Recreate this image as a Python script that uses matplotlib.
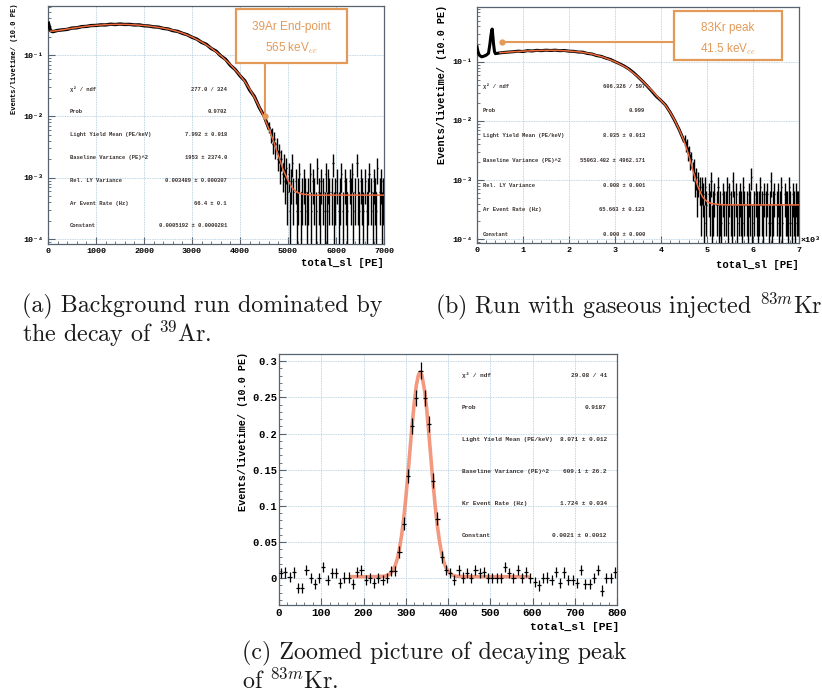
import numpy as np
import matplotlib
matplotlib.use('Agg')
import matplotlib.pyplot as plt
from matplotlib.patches import Rectangle
from matplotlib.ticker import MultipleLocator, LogLocator, FuncFormatter, NullFormatter

# ---------------- data ----------------
# (a) background run, 39Ar
a_body_x = [10, 50, 100, 200, 300, 400, 500, 600, 700, 800, 900, 1000, 1100, 1200, 1300, 1400,
            1500, 1600, 1700, 1800, 1900, 2000, 2100, 2200, 2300, 2400, 2500, 2600, 2700, 2800,
            2900, 3000, 3100, 3200, 3300, 3400, 3500, 3600, 3700, 3800, 3900, 4000, 4100, 4200,
            4300, 4400, 4500, 4600]
a_body_y = [0.33, 0.25, 0.24, 0.252, 0.257, 0.262, 0.275, 0.278, 0.29, 0.293, 0.302, 0.304, 0.31,
            0.309, 0.318, 0.314, 0.32, 0.315, 0.316, 0.309, 0.31, 0.30, 0.297, 0.288, 0.285, 0.272,
            0.266, 0.25, 0.243, 0.226, 0.214, 0.195, 0.182, 0.161, 0.149, 0.128, 0.116, 0.097,
            0.085, 0.068, 0.058, 0.046, 0.038, 0.027, 0.021, 0.014, 0.0102, 0.0064]
a_tail_start, a_bin = 4600, 25
a_unit = 2.9e-4  # events/livetime for a single count
a_tail_counts = [23, 17, 18, 12, 15, 10, 12, 7, 9, 5, 7, 4, 6, 3, 5, 2,
                 4, 1, 3, 6, 2, 0, 3, 1, 2, 4, 1, 2, 0, 3, 2, 1,
                 2, 0, 4, 1, 3, 2, 0, 1, 5, 2, 1, 3, 0, 2, 1, 4,
                 1, 3, 2, 0, 2, 6, 1, 2, 3, 0, 1, 2, 4, 1, 0, 3,
                 2, 1, 0, 3, 2, 4, 1, 2, 0, 6, 2, 1, 3, 2, 1, 0,
                 3, 1, 2, 4, 0, 2, 1, 3, 2, 1, 5, 0, 2, 3, 1, 2]
a_fit_x = [50, 100, 200, 400, 600, 800, 1000, 1200, 1400, 1600, 1800, 2000, 2200, 2400, 2600,
           2800, 3000, 3200, 3400, 3600, 3800, 4000, 4100, 4200, 4300, 4400, 4500, 4600, 4700,
           4800, 4900, 5000, 5100, 5200, 5300, 5500, 6000, 7000]
a_fit_y = [0.245, 0.245, 0.25, 0.265, 0.28, 0.295, 0.305, 0.312, 0.316, 0.316, 0.311, 0.303,
           0.29, 0.275, 0.254, 0.228, 0.197, 0.163, 0.13, 0.098, 0.07, 0.047, 0.037, 0.028,
           0.0205, 0.0143, 0.0098, 0.0063, 0.0039, 0.0023, 0.00135, 0.0009, 0.00066, 0.00057,
           0.00054, 0.00052, 0.00052, 0.00052]
a_mark = (4520, 0.01)
a_stats = [("χ² / ndf", "277.0 / 324"), ("Prob", "0.9702"),
           ("Light Yield Mean (PE/keV)", "7.992 ± 0.018"),
           ("Baseline Variance (PE)^2", "1953 ± 2374.0"),
           ("Rel. LY Variance", "0.003489 ± 0.000307"),
           ("Ar Event Rate (Hz)", "66.4 ± 0.1"),
           ("Constant", "0.0005192 ± 0.0000281")]

# (b) run with injected 83mKr
b_body_x = [0, 20, 50, 100, 150, 200, 250, 280, 300, 320, 330, 340, 360, 380, 400, 450, 500,
            600, 700, 800, 900, 1000, 1100, 1200, 1300, 1400, 1500, 1600, 1700, 1800, 1900,
            2000, 2100, 2200, 2300, 2400, 2500, 2600, 2700, 2800, 2900, 3000, 3100, 3200, 3300,
            3400, 3500, 3600, 3700, 3800, 3900, 4000, 4100, 4200, 4300, 4400, 4500]
b_body_y = [0.18, 0.15, 0.13, 0.122, 0.125, 0.13, 0.14, 0.2, 0.27, 0.34, 0.36, 0.3, 0.2, 0.15,
            0.138, 0.14, 0.142, 0.145, 0.147, 0.149, 0.152, 0.15, 0.155, 0.153, 0.157, 0.155,
            0.158, 0.156, 0.158, 0.155, 0.156, 0.152, 0.151, 0.147, 0.146, 0.139, 0.136, 0.128,
            0.124, 0.116, 0.11, 0.101, 0.093, 0.085, 0.076, 0.066, 0.056, 0.047, 0.039, 0.032,
            0.026, 0.0222, 0.0185, 0.014, 0.0101, 0.007, 0.0046]
b_tail_start, b_bin = 4500, 25
b_unit = 1.9e-4
b_tail_counts = [25, 20, 21, 15, 16, 11, 12, 8, 9, 5, 6, 3, 5, 4, 2, 4,
                 3, 1, 4, 2, 0, 3, 2, 5, 1, 2, 3, 0, 2, 4, 1, 2,
                 1, 3, 2, 0, 2, 4, 1, 3, 2, 1, 5, 2, 0, 3, 1, 2,
                 3, 2, 1, 4, 2, 0, 2, 1, 3, 2, 6, 1, 2, 0, 3, 2,
                 1, 2, 4, 2, 1, 3, 0, 2, 3, 1, 2, 5, 1, 2, 3, 0,
                 2, 3, 1, 2, 4, 1, 0, 3, 2, 2, 1, 4, 2, 1, 3, 2,
                 1, 3, 2, 2]
b_fit_x = [500, 750, 1000, 1250, 1500, 1750, 2000, 2250, 2500, 2750, 3000, 3250, 3500, 3750,
           4000, 4100, 4200, 4300, 4400, 4500, 4600, 4700, 4800, 4900, 5000, 5100, 5200, 5400, 7000]
b_fit_y = [0.143, 0.148, 0.152, 0.155, 0.157, 0.157, 0.153, 0.147, 0.136, 0.12, 0.101, 0.08,
           0.056, 0.036, 0.0222, 0.0183, 0.014, 0.0102, 0.007, 0.0046, 0.0027, 0.0014, 0.00078,
           0.00052, 0.00043, 0.0004, 0.00039, 0.00038, 0.00038]
b_mark = (540, 0.217)
b_stats = [("χ² / ndf", "606.326 / 597"), ("Prob", "0.999"),
           ("Light Yield Mean (PE/keV)", "8.035 ± 0.013"),
           ("Baseline Variance (PE)^2", "55063.482 ± 4962.171"),
           ("Rel. LY Variance", "0.008 ± 0.001"),
           ("Ar Event Rate (Hz)", "65.663 ± 0.123"),
           ("Constant", "0.000 ± 0.000")]

# (c) zoom on the 83mKr peak, 10 PE bins
c_x = list(range(5, 800, 10))
c_y = [0.007, 0.008, 0.0015, 0.008, -0.014, -0.014, 0.011, 0.0, -0.008, 0.0,
       0.016, -0.003, 0.007, 0.007, -0.007, 0.001, 0.001, -0.008, 0.009, 0.011,
       -0.003, 0.0, -0.006, 0.0, -0.002, 0.0, 0.010, 0.010, 0.036, 0.075,
       0.141, 0.21, 0.249, 0.287, 0.249, 0.213, 0.135, 0.082, 0.029, 0.011,
       0.007, -0.002, 0.011, 0.001, 0.007, 0.0, 0.011, 0.007, 0.009, 0.0,
       0.0, 0.0, 0.0, 0.016, 0.007, 0.0, 0.011, 0.0, 0.009, 0.0,
       -0.005, -0.010, 0.0, 0.001, -0.002, 0.009, -0.006, 0.008, -0.002, -0.002,
       -0.006, 0.011, -0.008, -0.008, 0.0, 0.011, -0.017, 0.0, 0.0, 0.008]
c_err_base = 0.007
c_err_peak = {285: 0.008, 295: 0.009, 305: 0.010, 315: 0.011, 325: 0.011, 335: 0.012,
              345: 0.011, 355: 0.011, 365: 0.010, 375: 0.009, 385: 0.008}
c_fit_x = [170, 200, 230, 250, 260, 265, 270, 275, 280, 285, 290, 295, 300, 305, 310, 315, 320,
           325, 330, 334, 338, 345, 350, 355, 360, 365, 370, 375, 380, 385, 390, 395, 400, 410,
           420, 440, 470, 520, 590]
c_fit_y = [0.0021, 0.0021, 0.0022, 0.0028, 0.0049, 0.0073, 0.0113, 0.0176, 0.0269, 0.0403,
           0.0584, 0.0817, 0.110, 0.1424, 0.177, 0.2115, 0.242, 0.2666, 0.281, 0.285, 0.281,
           0.258, 0.231, 0.198, 0.163, 0.129, 0.098, 0.0718, 0.0505, 0.0344, 0.0227, 0.0147,
           0.0095, 0.0043, 0.0027, 0.0021, 0.0021, 0.0021, 0.0021]
c_stats = [("χ² / ndf", "29.08 / 41"), ("Prob", "0.9187"),
           ("Light Yield Mean (PE/keV)", "8.071 ± 0.012"),
           ("Baseline Variance (PE)^2", "609.1 ± 26.2"),
           ("Kr Event Rate (Hz)", "1.724 ± 0.034"),
           ("Constant", "0.0021 ± 0.0012")]

# ---------------- style ----------------
MONO = ['Liberation Mono', 'DejaVu Sans Mono']
plt.rcParams['font.family'] = MONO
plt.rcParams['font.weight'] = 'bold'
plt.rcParams['mathtext.fontset'] = 'cm'

FRAME = '#56636f'
GRID = '#a9c8de'
FIT = '#ee6a3c'
ORANGE = '#e39a58'
STAT = '#3b3330'
YLAB = 'Events/livetime/ (10.0 PE)'
XLAB = 'total_sl [PE]'

W, H = 822, 695
fig = plt.figure(figsize=(W / 100, H / 100), dpi=100)


def axes_px(l, t, r, b):
    return fig.add_axes([l / W, 1 - b / H, (r - l) / W, (b - t) / H])


def fx(px):
    return px / W


def fy(py):
    return 1 - py / H


SUP = str.maketrans('-0123456789', '⁻⁰¹²³⁴⁵⁶⁷⁸⁹')


def log_label(v, pos):
    return '10' + str(int(round(np.log10(v)))).translate(SUP)


def root_style(ax, size, pad=3):
    for s in ax.spines.values():
        s.set_color(FRAME)
        s.set_linewidth(0.9)
    ax.tick_params(which='both', direction='in', top=False, right=False,
                   color=FRAME, labelsize=size, pad=pad)
    ax.tick_params(which='major', length=5, width=0.8)
    ax.tick_params(which='minor', length=2.5, width=0.6)
    ax.grid(True, which='major', color=GRID, lw=0.6, ls=(0, (1, 1)))
    ax.set_axisbelow(True)


def stats(ax, rows, x0, x1, y0, dy, size):
    for i, (k, v) in enumerate(rows):
        ax.text(x0, y0 - i * dy, k, transform=ax.transAxes, fontsize=size,
                color=STAT, ha='left', va='center', zorder=6)
        ax.text(x1, y0 - i * dy, v, transform=ax.transAxes, fontsize=size,
                color=STAT, ha='right', va='center', zorder=6)


def tail(ax, start, width, counts, unit):
    k = np.array(counts, dtype=float)
    xs = start + width / 2 + width * np.arange(len(k))
    m = k > 0
    y = k[m] * unit
    err = np.sqrt(k[m]) * unit
    lo = np.minimum(err, y - 1e-7)
    ax.errorbar(xs[m], y, yerr=[lo, err], xerr=width / 2, fmt='none',
                ecolor='black', elinewidth=1.0, capsize=0, zorder=3)


def callout(ax, box, lines, center_x, rows_y, start, mark):
    l, b, r, t = box
    ax.add_patch(Rectangle((l, b), r - l, t - b, transform=ax.transAxes, facecolor='white',
                           edgecolor=ORANGE, lw=1.6, zorder=7, clip_on=False))
    for txt, yy in zip(lines, rows_y):
        ax.text(center_x, yy, txt, transform=ax.transAxes, ha='center', va='center',
                fontsize=8.5, family='Liberation Sans', weight='normal', color=ORANGE, zorder=8)
    ax.annotate('', xy=mark, xycoords='data', xytext=start, textcoords='axes fraction',
                arrowprops=dict(arrowstyle='-', color=ORANGE, lw=1.5, shrinkA=0, shrinkB=0),
                zorder=7)
    ax.plot(*mark, 'o', color=ORANGE, ms=3.5, zorder=8)


# ---------------- (a) ----------------
ax = axes_px(48, 6, 384, 244)
ax.set_yscale('log')
ax.set_xlim(0, 7000)
ax.set_ylim(8.3e-5, 0.63)
ax.plot(a_body_x, a_body_y, color='black', lw=2.4, zorder=3)
tail(ax, a_tail_start, a_bin, a_tail_counts, a_unit)
ax.plot(a_fit_x, a_fit_y, color=FIT, lw=1.1, zorder=4)
ax.xaxis.set_major_locator(MultipleLocator(1000))
ax.xaxis.set_minor_locator(MultipleLocator(200))
ax.yaxis.set_major_locator(LogLocator(base=10, numticks=10))
ax.yaxis.set_minor_locator(LogLocator(base=10, subs=np.arange(2, 10), numticks=10))
ax.yaxis.set_major_formatter(FuncFormatter(log_label))
ax.yaxis.set_minor_formatter(NullFormatter())
root_style(ax, 6)
stats(ax, a_stats, 0.0655, 0.5327, 0.651, 0.0958, 4.0)
callout(ax, (0.5595, 0.7605, 0.8899, 0.987), ['39Ar End-point', '565 keV$_{ee}$'],
        0.7247, (0.912, 0.8235), (0.6458, 0.7605), a_mark)
fig.text(fx(384), fy(263), XLAB, ha='right', va='center', fontsize=7.7)
fig.text(fx(14), fy(4), YLAB, rotation=90, ha='center', va='top', fontsize=5.0)

# ---------------- (b) ----------------
ax = axes_px(477, 7, 799, 243)
ax.set_yscale('log')
ax.set_xlim(0, 7000)
ax.set_ylim(8.6e-5, 0.85)
ax.plot(b_body_x, b_body_y, color='black', lw=2.2, zorder=3)
tail(ax, b_tail_start, b_bin, b_tail_counts, b_unit)
ax.plot(b_fit_x, b_fit_y, color=FIT, lw=1.1, zorder=4)
ax.xaxis.set_major_locator(MultipleLocator(1000))
ax.xaxis.set_minor_locator(MultipleLocator(200))
ax.xaxis.set_major_formatter(FuncFormatter(lambda v, p: f'{v / 1000:g}'))
ax.yaxis.set_major_locator(LogLocator(base=10, numticks=10))
ax.yaxis.set_minor_locator(LogLocator(base=10, subs=np.arange(2, 10), numticks=10))
ax.yaxis.set_major_formatter(FuncFormatter(log_label))
ax.yaxis.set_minor_formatter(NullFormatter())
root_style(ax, 6)
stats(ax, b_stats, 0.0186, 0.5217, 0.665, 0.105, 4.0)
callout(ax, (0.6118, 0.7754, 0.9472, 0.983), ['83Kr peak', '41.5 keV$_{ee}$'],
        0.7795, (0.911, 0.818), (0.6118, 0.8517), b_mark)
ax.text(1.004, 0.012, '×10³', transform=ax.transAxes, ha='left', va='center', fontsize=6)
fig.text(fx(799), fy(265), XLAB, ha='right', va='center', fontsize=7.7)
fig.text(fx(442), fy(5), YLAB, rotation=90, ha='center', va='top', fontsize=7.4)

# ---------------- (c) ----------------
ax = axes_px(279, 354, 617, 605)
ax.set_xlim(0, 800)
ax.set_ylim(-0.037, 0.31)
c_err = [c_err_peak.get(x, c_err_base) for x in c_x]
ax.plot(c_fit_x, c_fit_y, color='#f2876a', lw=2.6, alpha=0.85, zorder=3,
        solid_capstyle='round')
ax.errorbar(c_x, c_y, yerr=c_err, xerr=5, fmt='none', ecolor='black',
            elinewidth=0.9, capsize=0, zorder=4)
ax.xaxis.set_major_locator(MultipleLocator(100))
ax.xaxis.set_minor_locator(MultipleLocator(20))
ax.yaxis.set_major_locator(MultipleLocator(0.05))
ax.yaxis.set_minor_locator(MultipleLocator(0.01))
ax.yaxis.set_major_formatter(FuncFormatter(lambda v, p: f'{v:g}' if abs(v) > 1e-9 else '0'))
root_style(ax, 7.5)
ax.tick_params(axis='x', labelsize=7.8, pad=2)
ax.tick_params(axis='y', pad=1.5)
stats(ax, c_stats, 0.541, 0.970, 0.916, 0.1275, 4.4)
fig.text(fx(619), fy(627), XLAB, ha='right', va='center', fontsize=8.2)
fig.text(fx(243), fy(352), YLAB, rotation=90, ha='center', va='top', fontsize=7.4)

# ---------------- captions ----------------
CAP = dict(family='cmr10', weight='normal', fontsize=17.3, color='#1a1a1a', va='center', ha='left')
fig.text(fx(22), fy(306), '(a) Background run dominated by', **CAP)
fig.text(fx(22), fy(334), 'the decay of $^{39}$Ar.', **CAP)
fig.text(fx(435), fy(306), '(b) Run with gaseous injected $^{83m}$Kr', **CAP)
fig.text(fx(242), fy(653), '(c) Zoomed picture of decaying peak', **CAP)
fig.text(fx(242), fy(681), 'of $^{83m}$Kr.', **CAP)

fig.savefig('out.png', dpi=100)
